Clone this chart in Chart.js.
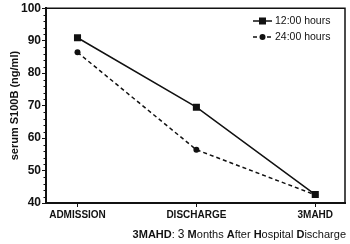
<!DOCTYPE html>
<html>
<head>
<meta charset="utf-8">
<script src="https://cdn.jsdelivr.net/npm/chart.js@4"></script>
<style>
    body { margin: 0; background: #fff; }
    #wrap { position: relative; width: 350px; height: 244px; }
    #caption {
        position: absolute; right: 4px; top: 227px;
        font-family: "Liberation Sans", Arial, sans-serif; font-size: 11px; color: #111;
        white-space: nowrap;
    }
    #caption b { font-weight: bold; }
</style>
</head>
<body>
<div id="wrap">
    <canvas id="s100Chart" width="350" height="244"></canvas>
    <div id="caption"><b>3MAHD</b>: <span style="font-size:12px">3</span> <b>M</b>onths <b>A</b>fter <b>H</b>ospital <b>D</b>ischarge</div>
</div>
<script>
// Data
const categories = ['ADMISSION', 'DISCHARGE', '3MAHD'];
const yTicks = [40, 50, 60, 70, 80, 90, 100];
const seriesLabels = ['12:00 hours', '24:00 hours'];
const series12 = [90.9, 69.5, 42.6];
const series24 = [86.4, 56.4, 42.5];

const FONT = '"Liberation Sans", Arial, sans-serif';
const INK = '#111';

// frame, minor ticks and the line+marker legend
const extrasPlugin = {
    id: 'extras',
    afterDraw(chart) {
        const ctx = chart.ctx;
        const a = chart.chartArea;
        const y = chart.scales.y;
        ctx.save();
        ctx.strokeStyle = INK;

        // top and right border
        ctx.lineWidth = 1.5;
        ctx.beginPath();
        ctx.moveTo(a.left, a.top);
        ctx.lineTo(a.right, a.top);
        ctx.lineTo(a.right, a.bottom);
        ctx.stroke();

        // minor ticks every 2
        ctx.lineWidth = 1;
        for (let v = y.min + 2; v < y.max; v += 2) {
            if (v % 10 === 0) continue;
            const py = Math.round(y.getPixelForValue(v)) + 0.5;
            ctx.beginPath();
            ctx.moveTo(a.left - 2.5, py);
            ctx.lineTo(a.left, py);
            ctx.stroke();
        }

        // legend
        ctx.font = '10.5px ' + FONT;
        ctx.textBaseline = 'middle';
        ctx.fillStyle = INK;
        chart.data.datasets.forEach((ds, i) => {
            const ly = 21 + i * 16;
            ctx.lineWidth = 1.5;
            ctx.setLineDash(ds.borderDash || []);
            ctx.beginPath();
            ctx.moveTo(253, ly);
            ctx.lineTo(272, ly);
            ctx.stroke();
            ctx.setLineDash([]);
            if (ds.pointStyle === 'rect') {
                ctx.fillRect(259, ly - 3.5, 7, 7);
            } else {
                ctx.beginPath();
                ctx.arc(262.5, ly, 3, 0, Math.PI * 2);
                ctx.fill();
            }
            ctx.fillText(ds.label, 275, ly);
        });
        ctx.restore();
    }
};

const toPoints = vals => vals.map((v, i) => ({ x: i, y: v }));

const ctx = document.getElementById('s100Chart').getContext('2d');
const s100Chart = new Chart(ctx, {
    type: 'line',
    data: {
        datasets: [{
            label: seriesLabels[0],
            data: toPoints(series12),
            borderColor: INK,
            backgroundColor: INK,
            borderWidth: 1.5,
            pointStyle: 'rect',
            pointRadius: 5,
            pointBorderWidth: 0
        }, {
            label: seriesLabels[1],
            data: toPoints(series24),
            borderColor: INK,
            backgroundColor: INK,
            borderWidth: 1.5,
            borderDash: [4, 3],
            pointStyle: 'circle',
            pointRadius: 3,
            pointBorderWidth: 0
        }]
    },
    options: {
        responsive: false,
        animation: false,
        layout: { padding: { top: 6, right: 2, left: 0, bottom: 0 } },
        plugins: {
            legend: { display: false },
            tooltip: { enabled: false }
        },
        scales: {
            x: {
                type: 'linear',
                min: -0.265,
                max: 2.25,
                afterBuildTicks: axis => { axis.ticks = categories.map((c, i) => ({ value: i })); },
                afterFit: axis => { axis.height = 41; },
                grid: { drawOnChartArea: false, drawTicks: true, tickLength: 4, tickColor: INK, tickWidth: 1 },
                border: { color: INK, width: 2 },
                ticks: {
                    color: INK,
                    padding: 2,
                    maxRotation: 0,
                    font: { family: FONT, size: 10, weight: 'bold' },
                    callback: v => categories[v]
                }
            },
            y: {
                min: 40,
                max: 100,
                afterBuildTicks: axis => { axis.ticks = yTicks.map(v => ({ value: v })); },
                afterFit: axis => { axis.width = 46; },
                grid: { drawOnChartArea: false, drawTicks: true, tickLength: 4, tickColor: INK, tickWidth: 1 },
                border: { color: INK, width: 2 },
                ticks: {
                    color: INK,
                    padding: 1,
                    font: { family: FONT, size: 12, weight: 'bold' }
                },
                title: {
                    display: true,
                    text: 'serum S100B (ng/ml)',
                    color: INK,
                    padding: { top: 8, bottom: 0 },
                    font: { family: FONT, size: 11, weight: 'bold' }
                }
            }
        }
    },
    plugins: [extrasPlugin]
});
</script>
</body>
</html>
